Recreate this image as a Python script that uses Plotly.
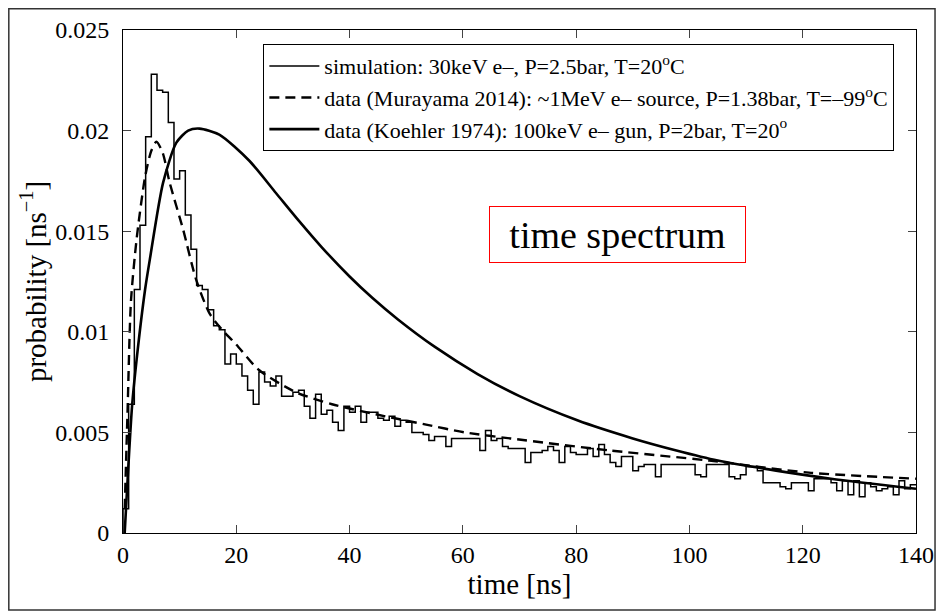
import plotly.graph_objects as go

# ---------------- data ----------------
# simulation histogram: 1 ns bins from 0 to 140 ns
sim_bin_edges = list(range(0, 141))
sim_values = [
    0.0012, 0.0064, 0.0121, 0.0153, 0.0197, 0.0228, 0.0220, 0.0219, 0.0204, 0.0176,
    0.0180, 0.0158, 0.0141, 0.0123, 0.0121, 0.0111, 0.0103, 0.0101, 0.0084, 0.0089,
    0.0084, 0.0078, 0.0071, 0.0064, 0.0080, 0.0075, 0.0073, 0.0078, 0.0068, 0.0068,
    0.0070, 0.0071, 0.0063, 0.0057, 0.0069, 0.0059, 0.0061, 0.0055, 0.0051, 0.0063,
    0.0060, 0.0063, 0.0055, 0.0060, 0.0060, 0.0057, 0.0056, 0.0058, 0.0053, 0.0056,
    0.0055, 0.0050, 0.0050, 0.0049, 0.0046, 0.0048, 0.0048, 0.0043, 0.0047, 0.0047,
    0.0047, 0.0047, 0.0047, 0.0041, 0.0051, 0.0046, 0.0047, 0.0043, 0.0042, 0.0042,
    0.0042, 0.0035, 0.0040, 0.0040, 0.0041, 0.0043, 0.0041, 0.0035, 0.0043, 0.0040,
    0.0039, 0.0039, 0.0042, 0.0038, 0.0044, 0.0039, 0.0035, 0.0033, 0.0038, 0.0038,
    0.0031, 0.0033, 0.0034, 0.0034, 0.0028, 0.0034, 0.0034, 0.0034, 0.0034, 0.0034,
    0.0034, 0.0029, 0.0028, 0.0034, 0.0034, 0.0034, 0.0034, 0.0028, 0.0027, 0.0029,
    0.0033, 0.0033, 0.0031, 0.0025, 0.0025, 0.0025, 0.0023, 0.0022, 0.0025, 0.0025,
    0.0025, 0.0021, 0.0027, 0.0027, 0.0027, 0.0025, 0.0021, 0.0026, 0.0019, 0.0026,
    0.0018, 0.0025, 0.0023, 0.0021, 0.0022, 0.0023, 0.0019, 0.0026, 0.0022, 0.0024,
]

# Murayama 2014 data (dashed)
mur_t = [0.3, 0.8, 1.4, 2.4, 3.9, 5.0, 5.9, 7.0, 8.25, 10.6, 12.9, 15.3, 17.5, 19.9,
         24.0, 30.5, 36.9, 46.3, 53.3, 60.3, 68.4, 86.0, 103.5, 121.1, 140.0]
mur_p = [0.0012, 0.0060, 0.0115, 0.0146, 0.0177, 0.0190, 0.01945, 0.0189, 0.0174, 0.0151,
         0.0126, 0.0109, 0.0101, 0.0094, 0.0081, 0.0070, 0.0064, 0.0058, 0.0054, 0.0050,
         0.0047, 0.0041, 0.0036, 0.0030, 0.0027]

# Koehler 1974 data (thick solid)
koe_t = [0.3, 1.6, 2.4, 3.9, 4.74, 7.07, 9.42, 11.5, 13.5, 17.0, 22.3, 27.0, 31.1, 35.1, 40.0,
         44.0, 48.6, 55.0, 62.6, 70.0, 80.2, 90.0, 97.7, 105.0, 115.3, 125.0, 140.0]
koe_p = [0.0, 0.0063, 0.0086, 0.0121, 0.0136, 0.0174, 0.0194, 0.0200, 0.0201, 0.0198,
         0.0185, 0.0169, 0.0155, 0.0142, 0.01275, 0.01169, 0.0106, 0.00926, 0.0079, 0.0068,
         0.0056, 0.0047, 0.0041, 0.0036, 0.0031, 0.0027, 0.0022]

x_ticks = [0, 20, 40, 60, 80, 100, 120, 140]
y_ticks = [0, 0.005, 0.01, 0.015, 0.02, 0.025]
y_tick_labels = ["0", "0.005", "0.01", "0.015", "0.02", "0.025"]

names = [
    "simulation: 30keV e\u2013, P=2.5bar, T=20<sup>o</sup>C",
    "data (Murayama 2014): ~1MeV e\u2013 source, P=1.38bar, T=\u201399<sup>o</sup>C",
    "data (Koehler 1974): 100keV e\u2013 gun, P=2bar, T=20<sup>o</sup>",
]

SERIF = "Liberation Serif, Times New Roman, serif"

# step line for the histogram
hx = [0] + sim_bin_edges
hy = [0] + sim_values + [sim_values[-1]]

fig = go.Figure()
fig.add_trace(go.Scatter(x=hx, y=hy, mode="lines", line=dict(color="black", width=1.5, shape="hv"),
                         name=names[0]))
fig.add_trace(go.Scatter(x=mur_t, y=mur_p, mode="lines",
                         line=dict(color="black", width=2.4, dash="10px,6px", shape="spline", smoothing=0.7),
                         name=names[1]))
fig.add_trace(go.Scatter(x=koe_t, y=koe_p, mode="lines",
                         line=dict(color="black", width=2.6, shape="spline", smoothing=0.7),
                         name=names[2]))

fig.update_layout(
    width=946, height=615,
    margin=dict(l=123, r=25, t=30, b=82),
    paper_bgcolor="white", plot_bgcolor="white",
    font=dict(family=SERIF, color="black", size=24),
    showlegend=True,
    legend=dict(x=0.177, y=0.972, xanchor="left", yanchor="top",
                bgcolor="white", bordercolor="black", borderwidth=1,
                font=dict(family=SERIF, size=22, color="black"),
                itemwidth=50, tracegroupgap=0),
    annotations=[dict(x=0.624, y=0.593, xref="paper", yref="paper",
                      text="time spectrum", showarrow=False,
                      width=247, height=47, align="center",
                      font=dict(family=SERIF, size=38, color="black"),
                      bordercolor="red", borderwidth=1, borderpad=4, bgcolor="white")],
    shapes=[dict(type="rect", xref="paper", yref="paper",
                 x0=-0.144, x1=1.024, y0=-0.153, y1=1.042,
                 line=dict(color="#333333", width=1.5), layer="below")],
)
fig.update_xaxes(range=[0, 140], tickvals=x_ticks, ticks="inside", ticklen=8,
                 showline=True, linecolor="black", linewidth=1, mirror="ticks",
                 showgrid=False, zeroline=False,
                 tickfont=dict(family=SERIF, size=24),
                 title=dict(text="time [ns]", font=dict(family=SERIF, size=29), standoff=4))
fig.update_yaxes(range=[0, 0.025], tickvals=y_ticks, ticktext=y_tick_labels,
                 ticks="inside", ticklen=8, ticklabelstandoff=8,
                 showline=True, linecolor="black", linewidth=1, mirror="ticks",
                 showgrid=False, zeroline=False,
                 tickfont=dict(family=SERIF, size=24),
                 title=dict(text="probability [ns<sup>\u22121</sup>]", font=dict(family=SERIF, size=29), standoff=0))

fig.write_html("out.html", config={"displayModeBar": False},
               post_script="document.body.style.margin='0px';document.body.style.overflow='hidden';")
